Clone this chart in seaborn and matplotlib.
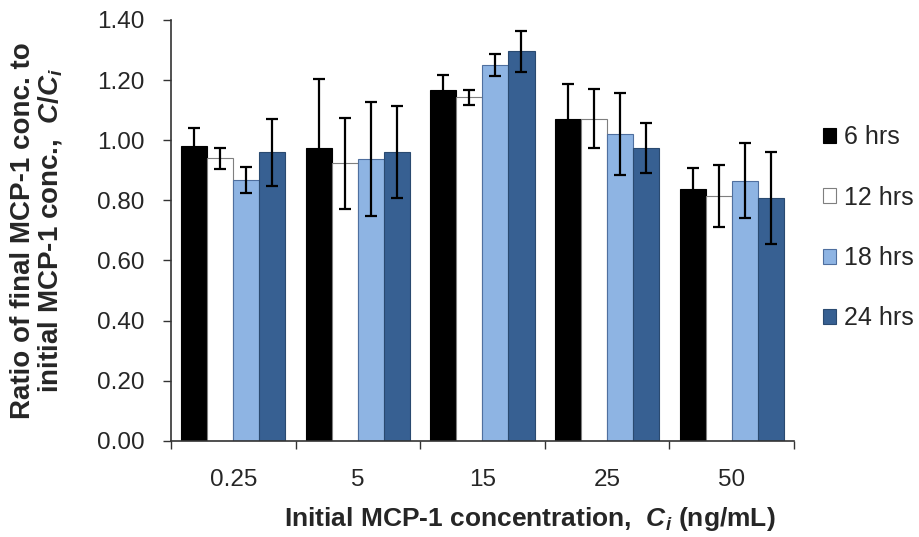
import seaborn as sns
import matplotlib.pyplot as plt
from matplotlib.ticker import FixedLocator
import pandas as pd

# Data
concentrations = ['0.25', '5', '15', '25', '50']
times = ['6 hrs', '12 hrs', '18 hrs', '24 hrs']
ratio_6 = [0.98, 0.975, 1.167, 1.072, 0.838]
ratio_12 = [0.94, 0.923, 1.143, 1.072, 0.813]
ratio_18 = [0.868, 0.937, 1.249, 1.021, 0.865]
ratio_24 = [0.959, 0.962, 1.295, 0.975, 0.809]
err_6 = [0.06, 0.23, 0.05, 0.116, 0.07]
err_12 = [0.035, 0.152, 0.025, 0.098, 0.103]
err_18 = [0.043, 0.19, 0.036, 0.136, 0.124]
err_24 = [0.11, 0.153, 0.068, 0.083, 0.153]

colors = ['#000000', '#FFFFFF', '#8EB4E3', '#376092']
edges = ['#000000', '#7F7F7F', '#4F6F9F', '#2A4A70']

ratios = [ratio_6, ratio_12, ratio_18, ratio_24]
errs = [err_6, err_12, err_18, err_24]
rows = []
for t, vals in zip(times, ratios):
    for c, v in zip(concentrations, vals):
        rows.append({'conc': c, 'time': t, 'ratio': v})
df = pd.DataFrame(rows)

sns.set_style('white')
plt.rcParams['font.family'] = ['Liberation Sans', 'DejaVu Sans']
plt.rcParams['mathtext.fontset'] = 'custom'
plt.rcParams['mathtext.rm'] = 'Liberation Sans:bold'
plt.rcParams['mathtext.it'] = 'Liberation Sans:bold:italic'

fig = plt.figure(figsize=(9.19, 5.37), dpi=100)
ax = fig.add_axes([0.186, 0.179, 0.678, 0.784])

sns.barplot(data=df, x='conc', y='ratio', hue='time', order=concentrations,
            hue_order=times, palette=colors, saturation=1, width=0.835, gap=0,
            errorbar=None, ax=ax, legend=False)

# style bars and add error bars
for cont, ec, err in zip(ax.containers, edges, errs):
    xs = []
    ys = []
    for bar in cont:
        bar.set_edgecolor(ec)
        bar.set_linewidth(0.8)
        xs.append(bar.get_x() + bar.get_width() / 2)
        ys.append(bar.get_height())
    ax.errorbar(xs, ys, yerr=err, fmt='none', ecolor='black',
                elinewidth=1.6, capsize=4, capthick=1.6, zorder=5)

ax.set_ylim(0, 1.4)
ax.set_xlim(-0.5, 4.5)
ax.set_yticks([0, 0.2, 0.4, 0.6, 0.8, 1.0, 1.2, 1.4])
ax.set_yticklabels(['%.2f' % v for v in ax.get_yticks()])
ax.tick_params(axis='y', labelsize=17.5, length=6, width=1, direction='out',
               left=True, color='#333333', pad=13)
ax.tick_params(axis='x', which='major', labelsize=17.5, length=0, pad=20)
ax.xaxis.set_minor_locator(FixedLocator([-0.5, 0.5, 1.5, 2.5, 3.5, 4.5]))
ax.tick_params(axis='x', which='minor', length=6, width=1, direction='out',
               bottom=True, color='#333333')

for s in ['top', 'right']:
    ax.spines[s].set_visible(False)
for s in ['left', 'bottom']:
    ax.spines[s].set_color('#333333')
    ax.spines[s].set_linewidth(1.2)

ax.set_xlabel('Initial MCP-1 concentration,  $C_i$ (ng/mL)', fontsize=19,
              fontweight='bold', labelpad=10, x=0.576)
ax.set_ylabel('Ratio of final MCP-1 conc. to\ninitial MCP-1 conc.,  $C/C_i$',
              fontsize=20, fontweight='bold', labelpad=24, linespacing=1.0)

handles = [plt.Rectangle((0, 0), 1, 1, facecolor=c, edgecolor=e, linewidth=0.8)
           for c, e in zip(colors, edges)]
ax.legend(handles, times, loc='center left', bbox_to_anchor=(1.03, 0.506),
          frameon=False, fontsize=18, handlelength=0.55, handleheight=0.55,
          handletextpad=0.3, labelspacing=1.45, borderaxespad=0)

fig.savefig('out.png', dpi=100)
